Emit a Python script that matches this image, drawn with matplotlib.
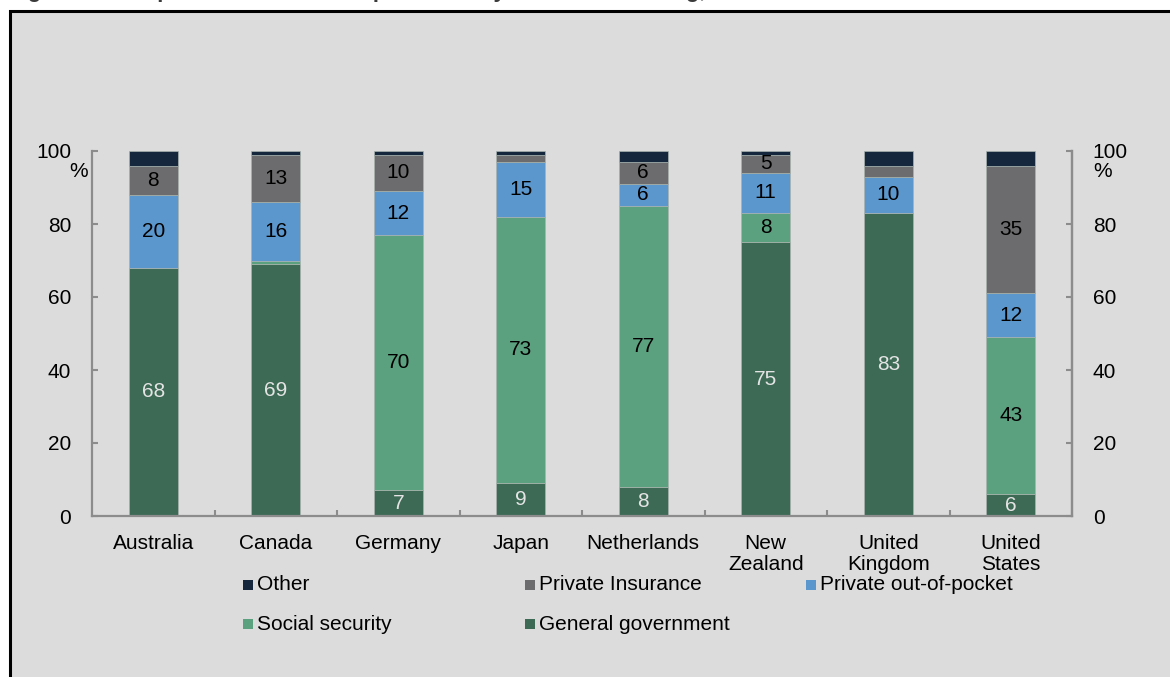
import matplotlib.pyplot as plt
from matplotlib.patches import Rectangle
import numpy as np

plt.rcParams['font.family'] = ['Liberation Sans', 'DejaVu Sans']

countries = ['Australia', 'Canada', 'Germany', 'Japan', 'Netherlands',
             'New\nZealand', 'United\nKingdom', 'United\nStates']
general_gov = [68, 69, 7, 9, 8, 75, 83, 6]
social_sec = [0, 1, 70, 73, 77, 8, 0, 43]
out_of_pocket = [20, 16, 12, 15, 6, 11, 10, 12]
private_ins = [8, 13, 10, 2, 6, 5, 3, 35]
other = [4, 1, 1, 1, 3, 1, 4, 4]

names = ['General government', 'Social security', 'Private out-of-pocket',
         'Private Insurance', 'Other']
colors = ['#3d6a55', '#5ba07f', '#5b97cd', '#6c6c6e', '#14273d']
label_colors = ['#e4e4e4', 'black', 'black', 'black', 'black']
series = [general_gov, social_sec, out_of_pocket, private_ins, other]

FS = 15
W, H = 1170, 677
fig = plt.figure(figsize=(W / 100, H / 100), dpi=100)
fig.patch.set_facecolor('white')

# grey panel with black frame (runs off the right and bottom edge)
fig.add_artist(Rectangle((10 / W, -0.05), 1.1, 1 - 11 / H + 0.05,
                         transform=fig.transFigure, facecolor='#dcdcdc',
                         edgecolor='black', lw=2.2, zorder=0))

# title, only its descenders fall inside the image
fig.text(8 / W, 1 + 3 / H, 'Figure 1: Composition of health expenditure by source of funding, 2013',
         fontsize=16, fontweight='bold', color='#3a3a3a', va='baseline', ha='left')

x0, x1, y0, y1 = 92, 1072, 516, 151
ax = fig.add_axes([x0 / W, 1 - y0 / H, (x1 - x0) / W, (y0 - y1) / H])
ax.set_facecolor('none')

x = np.arange(len(countries))
bottom = np.zeros(len(countries))
for vals, c, lc in zip(series, colors, label_colors):
    vals = np.array(vals, dtype=float)
    bars = ax.bar(x, vals, width=0.4, bottom=bottom, color=c,
                  edgecolor='#a9b3ae', linewidth=0.5, zorder=2)
    labels = [f'{v:.0f}' if v >= 5 else '' for v in vals]
    ax.bar_label(bars, labels=labels, label_type='center', color=lc, fontsize=FS)
    bottom += vals

spine_c = '#8c8c8c'
ax.set_xlim(-0.5, len(countries) - 0.5)
ax.set_ylim(0, 100)
ax.set_yticks(range(0, 101, 20))
ax.set_xticks(x)
ax.set_xticklabels(countries, fontsize=FS, linespacing=1.12)
ax.set_xticks(x[:-1] + 0.5, minor=True)
ax.tick_params(axis='x', which='major', length=0, pad=13)
ax.tick_params(axis='x', which='minor', direction='in', length=4, width=1.5, color=spine_c)
ax.tick_params(axis='y', direction='in', length=4, width=1.5, color=spine_c,
               labelsize=FS, pad=15)
ax.spines['top'].set_visible(False)
for s in ['left', 'right', 'bottom']:
    ax.spines[s].set_color(spine_c)
    ax.spines[s].set_linewidth(1.6)

ax2 = ax.twinx()
ax2.set_ylim(0, 100)
ax2.set_yticks(range(0, 101, 20))
ax2.tick_params(axis='y', direction='in', length=4, width=1.5, color=spine_c,
                labelsize=FS, pad=15)
for s in ['top', 'left', 'bottom']:
    ax2.spines[s].set_visible(False)
ax2.spines['right'].set_color(spine_c)
ax2.spines['right'].set_linewidth(1.6)

# unit markers under the top tick labels
ax.text(-4 / 980, 94.5, '%', transform=ax.get_yaxis_transform(), ha='right',
        va='center', fontsize=FS)
ax.text(1 + 21 / 980, 94.5, '%', transform=ax.get_yaxis_transform(), ha='left',
        va='center', fontsize=FS)

# legend, laid out in rows of three
legend_order = ['Other', 'Private Insurance', 'Private out-of-pocket',
                'Social security', 'General government']
col_x = [243, 525, 806]
row_y = [585, 624]
for i, name in enumerate(legend_order):
    c = colors[names.index(name)]
    px = col_x[i % 3]
    py = row_y[i // 3]
    fig.add_artist(Rectangle((px / W, 1 - (py + 5) / H), 10 / W, 10 / H,
                             transform=fig.transFigure, facecolor=c,
                             edgecolor='none'))
    fig.text((px + 14) / W, 1 - py / H, name, fontsize=FS, va='center', ha='left')

fig.savefig('out.png', dpi=100)
